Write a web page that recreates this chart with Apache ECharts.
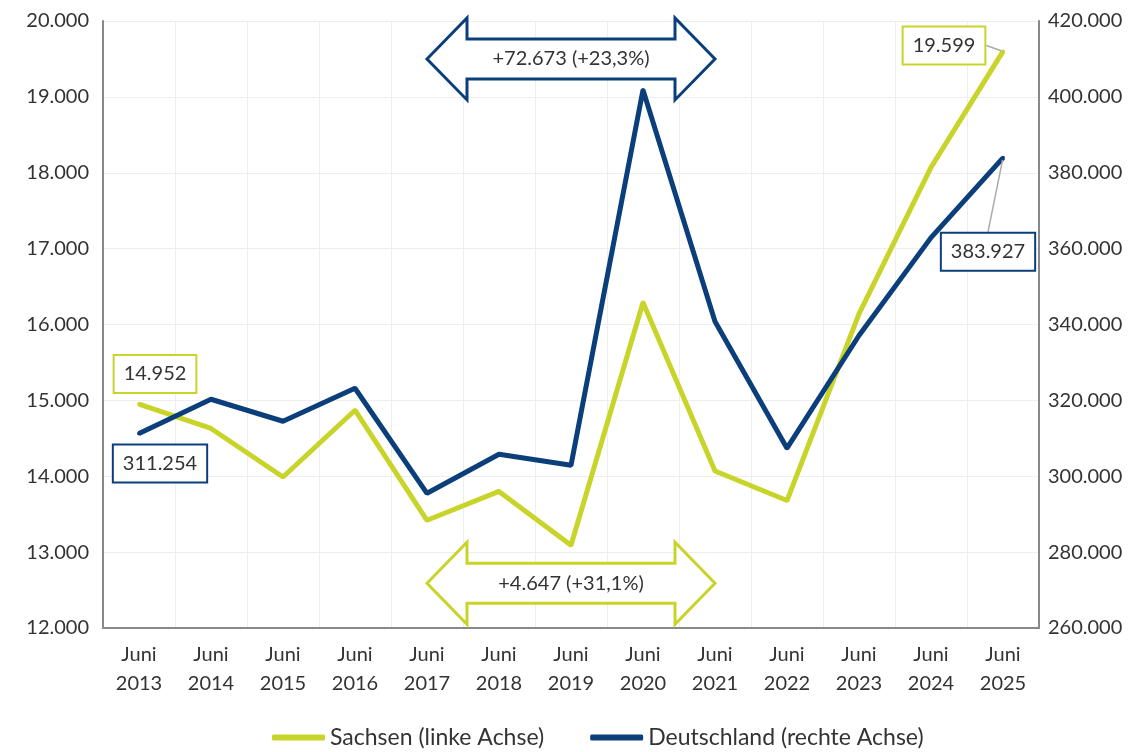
<!DOCTYPE html>
<html>
<head>
    <meta charset="utf-8">
    <title>Sachsen / Deutschland</title>
    <script src="https://cdn.jsdelivr.net/npm/echarts@6/dist/echarts.min.js"></script>
    <style type="text/css">
        body{
            margin: 0;
            background: #fff;
        }
        #main{
            width: 1146px;
            height: 752px;
        }
    </style>
</head>
<body>
<div id="main"></div>
<script>
    // Werte jeweils Juni
    var years = ['2013', '2014', '2015', '2016', '2017', '2018', '2019', '2020', '2021', '2022', '2023', '2024', '2025'];
    var sachsen = [14952, 14630, 13990, 14870, 13420, 13800, 13090, 16290, 14070, 13680, 16140, 18070, 19599];
    var deutschland = [311254, 320300, 314500, 323200, 295500, 305800, 302900, 401800, 340800, 307400, 337100, 362900, 383927];
    var leftTicks = [12000, 20000, 1000];
    var rightTicks = [260000, 420000, 20000];
    var arrowTexts = ['+72.673 (+23,3%)', '+4.647 (+31,1%)'];

    var yellow = '#c9d42b';
    var blue = '#0b3f7b';
    var textColor = '#333';
    var font = 'Lato';

    var categories = years.map(function (y) { return 'Juni\n' + y; });

    function fmt(v) {
        return String(v).replace(/\B(?=(\d{3})+(?!\d))/g, '.');
    }

    function boxLabel(color) {
        return {
            show: true,
            position: 'inside',
            formatter: function (p) { return fmt(p.value); },
            color: textColor,
            fontFamily: font,
            fontSize: 20,
            lineHeight: 24,
            backgroundColor: '#fff',
            borderColor: color,
            borderWidth: 2,
            padding: [6, 9]
        };
    }

    function seriesData(values, color) {
        return values.map(function (v, i) {
            if (i === 0 || i === values.length - 1) {
                return {
                    value: v,
                    label: boxLabel(color),
                    labelLine: { show: i === values.length - 1, lineStyle: { color: '#aaa', width: 1.5 } }
                };
            }
            return v;
        });
    }

    // Verschiebung der Beschriftungen [erster Punkt, letzter Punkt]
    var labelShift = [
        [[16, -30], [-59, -6]],
        [[21, 30], [-15, 94]]
    ];

    var myChart = echarts.init(document.getElementById('main'));
    var option = {
        animation: false,
        textStyle: { fontFamily: font },
        grid: { left: 103, right: 107, top: 21, bottom: 124 },
        legend: {
            top: 721,
            left: 267,
            icon: 'roundRect',
            itemWidth: 53,
            itemHeight: 6,
            itemGap: 46,
            textStyle: { color: textColor, fontSize: 23, fontFamily: font },
            data: ['Sachsen (linke Achse)', 'Deutschland (rechte Achse)']
        },
        xAxis: {
            type: 'category',
            data: categories,
            boundaryGap: true,
            axisLine: { lineStyle: { color: '#888', width: 2 } },
            axisTick: { show: false },
            splitLine: { show: true, interval: 0, lineStyle: { color: '#eee' } },
            axisLabel: { interval: 0, color: textColor, fontSize: 20, lineHeight: 29, margin: 12 }
        },
        yAxis: [{
            type: 'value',
            min: leftTicks[0],
            max: leftTicks[1],
            interval: leftTicks[2],
            axisLine: { show: true, lineStyle: { color: '#888', width: 2 } },
            axisTick: { show: false },
            splitLine: { lineStyle: { color: '#eee' } },
            axisLabel: { color: textColor, fontSize: 20, margin: 14, formatter: fmt }
        }, {
            type: 'value',
            min: rightTicks[0],
            max: rightTicks[1],
            interval: rightTicks[2],
            axisLine: { show: true, lineStyle: { color: '#888', width: 2 } },
            axisTick: { show: false },
            splitLine: { show: false },
            axisLabel: { color: textColor, fontSize: 20, margin: 9, formatter: fmt }
        }],
        series: [{
            name: 'Sachsen (linke Achse)',
            type: 'line',
            yAxisIndex: 0,
            data: seriesData(sachsen, yellow),
            symbol: 'circle',
            symbolSize: 4,
            itemStyle: { color: yellow },
            lineStyle: { color: yellow, width: 5 },
            label: { show: false },
            labelLine: { show: false },
            labelLayout: function (p) {
                var s = labelShift[0][p.dataIndex === 0 ? 0 : 1];
                return { dx: s[0], dy: s[1] };
            }
        }, {
            name: 'Deutschland (rechte Achse)',
            type: 'line',
            yAxisIndex: 1,
            data: seriesData(deutschland, blue),
            symbol: 'circle',
            symbolSize: 4,
            itemStyle: { color: blue },
            lineStyle: { color: blue, width: 5 },
            label: { show: false },
            labelLine: { show: false },
            labelLayout: function (p) {
                var s = labelShift[1][p.dataIndex === 0 ? 0 : 1];
                return { dx: s[0], dy: s[1] };
            }
        }]
    };
    myChart.setOption(option);

    // Doppelpfeile mit Veränderung 2013 -> 2025
    function arrow(fromCat, toCat, yVal, color, text) {
        var a = myChart.convertToPixel({ xAxisIndex: 0, yAxisIndex: 0 }, [fromCat, yVal]);
        var b = myChart.convertToPixel({ xAxisIndex: 0, yAxisIndex: 0 }, [toCat, yVal]);
        var x1 = a[0], x2 = b[0], cy = a[1];
        var hl = 40, hh = 41, bh = 20;
        return [{
            type: 'polygon',
            z: 100,
            shape: {
                points: [[x1, cy], [x1 + hl, cy - hh], [x1 + hl, cy - bh], [x2 - hl, cy - bh], [x2 - hl, cy - hh],
                    [x2, cy], [x2 - hl, cy + hh], [x2 - hl, cy + bh], [x1 + hl, cy + bh], [x1 + hl, cy + hh]]
            },
            style: { fill: '#fff', stroke: color, lineWidth: 3, lineJoin: 'miter' }
        }, {
            type: 'text',
            z: 101,
            x: (x1 + x2) / 2,
            y: cy,
            style: {
                text: text, fill: textColor, font: '20px ' + font,
                align: 'center', verticalAlign: 'middle'
            }
        }];
    }

    myChart.setOption({
        graphic: arrow(categories[4], categories[8], 19500, blue, arrowTexts[0])
            .concat(arrow(categories[4], categories[8], 12590, yellow, arrowTexts[1]))
    });
</script>
</body>
</html>
